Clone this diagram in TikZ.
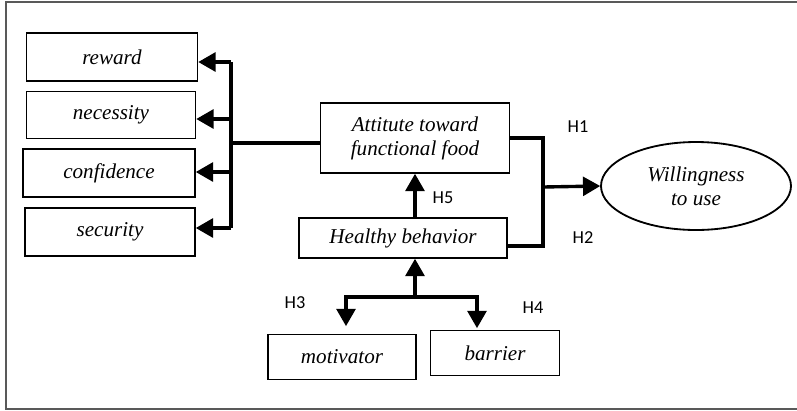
\documentclass[tikz,border=0pt]{standalone}
\usepackage{fontspec}
\setmainfont{Liberation Serif}
\newfontfamily\hfont{Carlito}
\usetikzlibrary{arrows, positioning, shapes.geometric, calc}

\tikzset{
	factor/.style={draw, line width=1.3pt, inner sep=0pt, font=\itshape\fontsize{15}{17}\selectfont, align=center},
	conn/.style={line width=2.4pt},
	arr/.style={line width=2.4pt, -triangle 60},
	hyp/.style={font=\hfont\fontsize{13}{15}\selectfont}
}

\begin{document}
\begin{tikzpicture}[x=0.025cm, y=-0.025cm]
		\useasboundingbox (0,0) rectangle (797,410);
		\draw[black!65, line width=1.2pt] (797,2) -- (6,2) -- (6,409) -- (797,409);

		% left factors
		\node[factor, minimum width=171*0.025cm, minimum height=48*0.025cm] (reward) at (112,57) {reward};
		\node[factor, minimum width=169*0.025cm, minimum height=47*0.025cm] (necessity) at (111,115) {necessity};
		\node[factor, minimum width=172*0.025cm, minimum height=48*0.025cm] (confidence) at (109,173) {confidence};
		\node[factor, minimum width=170*0.025cm, minimum height=48*0.025cm] (security) at (110,232) {security};

		% middle
		\node[factor, minimum width=189*0.025cm, minimum height=70*0.025cm] (attitude) at (415,138) {Attitute toward\\functional food};
		\node[factor, minimum width=208*0.025cm, minimum height=40*0.025cm] (healthy) at (403,238) {Healthy behavior};
		\node[factor, ellipse, minimum width=190*0.025cm, minimum height=88*0.025cm] (willing) at (696,186) {Willingness\\to use};

		% bottom
		\node[factor, minimum width=148*0.025cm, minimum height=45*0.025cm] (motivator) at (342,357) {motivator};
		\node[factor, minimum width=129*0.025cm, minimum height=45*0.025cm] (barrier) at (495,353) {barrier};

		% labels
		\node[hyp] (h1) at (578,127) {H1};
		\node[hyp] (h2) at (583,238) {H2};
		\node[hyp] (h3) at (295,303) {H3};
		\node[hyp] (h4) at (533,308) {H4};
		\node[hyp] (h5) at (443,198) {H5};

		% bus to the left factors
		\coordinate (b1) at (231,62);
		\coordinate (b2) at (231,119);
		\coordinate (b3) at (231,172);
		\coordinate (b4) at (231,228);
		\coordinate (attw) at ($(attitude.west)+(0,5)$);
		\draw[conn] (b1) -- (b4);
		\draw[conn] (attw) -- (attw -| b1);
		\draw[arr] (b1) -- (b1 -| reward.east);
		\draw[arr] (b2) -- (b2 -| necessity.east);
		\draw[arr] (b3) -- (b3 -| confidence.east);
		\draw[arr] (b4) -- (b4 -| security.east);

		% to willingness
		\coordinate (join) at (543,187);
		\coordinate (hbe) at ($(healthy.east)+(0,8)$);
		\draw[conn] (attitude.east) -| (join) |- (hbe);
		\draw[arr] (join) -- (willing.west);

		% H5
		\draw[arr] (attitude.south |- healthy.north) -- (attitude.south);

		% fork below
		\coordinate (fork) at (415,297);
		\coordinate (mtop) at (346,326);
		\coordinate (btop) at (477,328);
		\draw[arr] (fork) -- (fork |- healthy.south);
		\draw[arr] (fork) -| (mtop);
		\draw[arr] (fork) -| (btop);
	\end{tikzpicture}
\end{document}
